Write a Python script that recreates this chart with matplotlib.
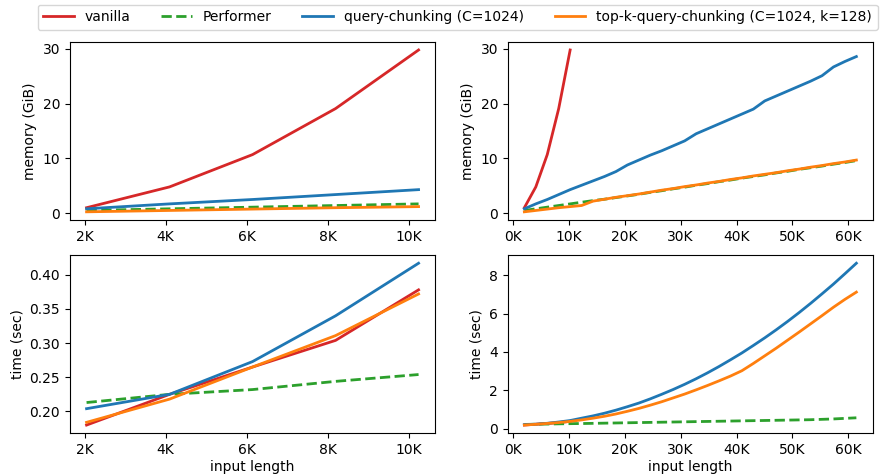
import numpy as np
import matplotlib
matplotlib.use('Agg')
import matplotlib.pyplot as plt
from matplotlib.ticker import FuncFormatter, MultipleLocator

#input lengths (tokens)
short_len = [2048, 4096, 6144, 8192, 10240]
long_len = [2048 * k for k in range(1, 31)]

#memory (GiB), short inputs
mem_vanilla = [1.0, 4.8, 10.7, 19.1, 29.8]
mem_performer = [0.5, 0.8, 1.1, 1.4, 1.7]
mem_qc = [0.8, 1.7, 2.5, 3.4, 4.3]
mem_topk = [0.25, 0.5, 0.75, 1.0, 1.2]

#memory (GiB), long inputs
mem_qc_long = [0.8, 1.7, 2.5, 3.4, 4.3, 5.1, 5.9, 6.7, 7.6, 8.8,
               9.7, 10.6, 11.4, 12.3, 13.2, 14.5, 15.4, 16.3, 17.2, 18.1,
               19.0, 20.5, 21.4, 22.3, 23.2, 24.1, 25.1, 26.7, 27.7, 28.6]
mem_topk_long = [0.25, 0.5, 0.75, 1.0, 1.2, 1.4, 2.2, 2.55, 2.9, 3.2,
                 3.5, 3.85, 4.2, 4.5, 4.85, 5.15, 5.5, 5.8, 6.15, 6.45,
                 6.8, 7.1, 7.4, 7.75, 8.05, 8.4, 8.7, 9.05, 9.35, 9.7]
mem_performer_long = [0.5, 0.8, 1.1, 1.4, 1.7, 2.0, 2.3, 2.55, 2.85, 3.15,
                      3.45, 3.8, 4.1, 4.45, 4.75, 5.1, 5.4, 5.75, 6.05, 6.4,
                      6.7, 7.0, 7.35, 7.65, 8.0, 8.3, 8.6, 8.95, 9.25, 9.6]

#time (sec), short inputs
time_vanilla = [0.180, 0.225, 0.265, 0.304, 0.378]
time_performer = [0.213, 0.225, 0.232, 0.244, 0.254]
time_qc = [0.204, 0.225, 0.273, 0.340, 0.417]
time_topk = [0.184, 0.218, 0.265, 0.311, 0.372]

#time (sec), long inputs
time_qc_long = [0.204, 0.225, 0.273, 0.340, 0.417, 0.54, 0.66, 0.80, 0.96, 1.14,
                1.33, 1.55, 1.79, 2.04, 2.31, 2.60, 2.91, 3.24, 3.59, 3.95,
                4.34, 4.74, 5.16, 5.60, 6.06, 6.54, 7.04, 7.55, 8.09, 8.64]
time_topk_long = [0.184, 0.218, 0.265, 0.311, 0.372, 0.45, 0.54, 0.64, 0.76, 0.90,
                  1.05, 1.22, 1.40, 1.60, 1.80, 2.02, 2.25, 2.49, 2.74, 3.02,
                  3.40, 3.80, 4.20, 4.62, 5.04, 5.47, 5.90, 6.34, 6.75, 7.13]
time_performer_long = [0.213, 0.225, 0.232, 0.244, 0.254, 0.26, 0.27, 0.28, 0.29, 0.30,
                       0.31, 0.32, 0.33, 0.34, 0.35, 0.36, 0.37, 0.38, 0.39, 0.40,
                       0.41, 0.42, 0.43, 0.44, 0.45, 0.46, 0.48, 0.50, 0.53, 0.56]

labels = ['vanilla', 'Performer', 'query-chunking (C=1024)', 'top-k-query-chunking (C=1024, k=128)']
colors = ['#d62728', '#2ca02c', '#1f77b4', '#ff7f0e']

plt.rcParams['font.size'] = 10
fig = plt.figure(figsize=(8.8, 4.76), dpi=100)
w, h = 0.415, 0.374
ax_ml = fig.add_axes([0.0795, 0.538, w, h])
ax_mr = fig.add_axes([0.577, 0.538, w, h])
ax_tl = fig.add_axes([0.0795, 0.090, w, h])
ax_tr = fig.add_axes([0.577, 0.090, w, h])

lw = 2
def draw(ax, v, p, q, t, pl=None, ql=None, tl=None):
    ax.plot(short_len, v, color=colors[0], lw=lw, label=labels[0])
    ax.plot(long_len if pl else short_len, pl or p, color=colors[1], lw=lw, ls='--', label=labels[1])
    ax.plot(long_len if ql else short_len, ql or q, color=colors[2], lw=lw, label=labels[2])
    ax.plot(long_len if tl else short_len, tl or t, color=colors[3], lw=lw, label=labels[3])

draw(ax_ml, mem_vanilla, mem_performer, mem_qc, mem_topk)
draw(ax_mr, mem_vanilla, mem_performer, mem_qc, mem_topk,
     pl=mem_performer_long, ql=mem_qc_long, tl=mem_topk_long)
draw(ax_tl, time_vanilla, time_performer, time_qc, time_topk)
draw(ax_tr, time_vanilla, time_performer, time_qc, time_topk,
     pl=time_performer_long, ql=time_qc_long, tl=time_topk_long)

kfmt = FuncFormatter(lambda x, pos: f'{int(round(x / 1000))}K')
for ax in (ax_ml, ax_tl):
    ax.xaxis.set_major_locator(MultipleLocator(2000))
    ax.xaxis.set_major_formatter(kfmt)
for ax in (ax_mr, ax_tr):
    ax.xaxis.set_major_locator(MultipleLocator(10000))
    ax.xaxis.set_major_formatter(kfmt)

ax_ml.set_ylabel('memory (GiB)')
ax_mr.set_ylabel('memory (GiB)')
ax_tl.set_ylabel('time (sec)')
ax_tr.set_ylabel('time (sec)')
ax_tl.set_xlabel('input length', labelpad=2)
ax_tr.set_xlabel('input length', labelpad=2)
ax_ml.set_yticks([0, 10, 20, 30])
ax_mr.set_yticks([0, 10, 20, 30])
ax_tl.set_yticks([0.20, 0.25, 0.30, 0.35, 0.40])
ax_tr.set_yticks([0, 2, 4, 6, 8])

handles, _ = ax_ml.get_legend_handles_labels()
fig.legend(handles, labels, loc='upper center', ncol=4, bbox_to_anchor=(0.52, 1.005),
           handlelength=2.2, columnspacing=2.2)

fig.savefig('out.png', dpi=100)
